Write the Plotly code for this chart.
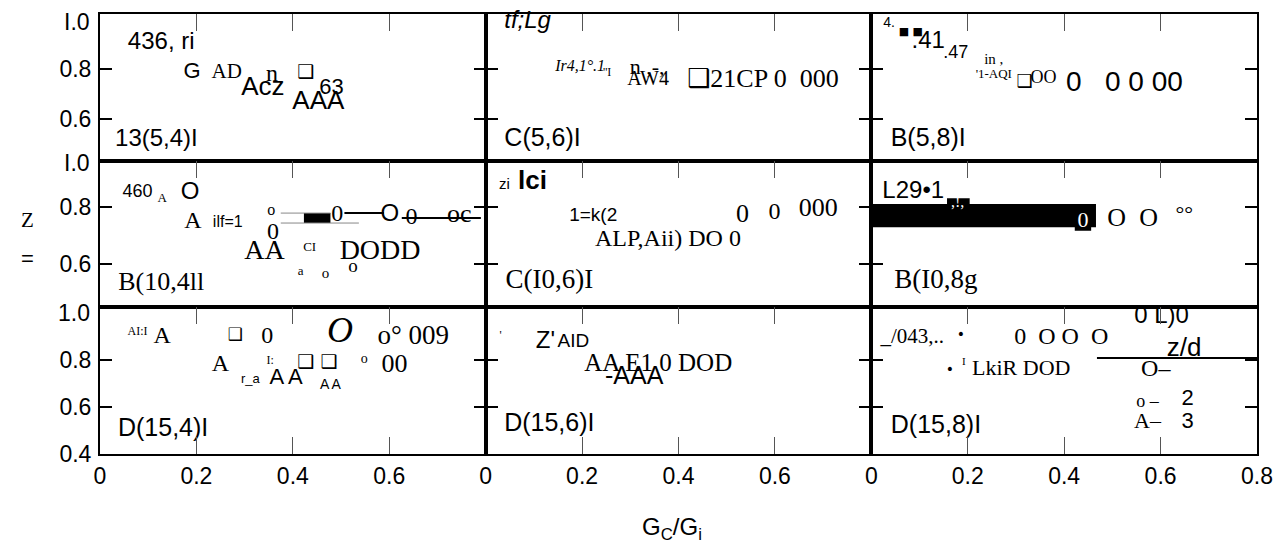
import plotly.graph_objects as go
from plotly.subplots import make_subplots

# ---------------- axis ticks / labels ----------------
x_tick_vals_12 = [0, 0.2, 0.4, 0.6]
x_tick_text_12 = ["0", "0.2", "0.4", "0.6"]
x_tick_vals_3 = [0, 0.2, 0.4, 0.6, 0.8]
x_tick_text_3 = ["0", "0.2", "0.4", "0.6", "0.8"]
y_tick_vals_top = [0.8, 0.6]
y_tick_text_top = ["0.8", "0.6"]
y_tick_vals_bot = [0.8, 0.6, 0.4]
y_tick_text_bot = ["0.8", "0.6", "0.4"]
row_top_labels = ["I.0", "I.0", "1.0"]
row_top_label_vals = [0.988, 0.955, 1.0]
x_title = "G<sub>C</sub>/G<sub>i</sub>"
y_title_parts = ["Z", "="]

# ---------------- panel texts (row 1) ----------------
p11_text = ["436, ri", "G", "AD", "n", "Acz", "❑", "63", "AAA", "13(5,4)I"]
p11_x = [0.127, 0.191, 0.263, 0.357, 0.338, 0.427, 0.480, 0.453, 0.117]
p11_y = [0.904, 0.787, 0.783, 0.775, 0.723, 0.783, 0.719, 0.663, 0.514]

p12_text = ["<i>tf;Lg</i>", "<i>Ir4,1°.1</i>", "n ,-,", "''I", "AW4", "❑21CP 0  000", "C(5,6)I"]
p12_x = [0.087, 0.196, 0.335, 0.252, 0.337, 0.575, 0.118]
p12_y = [0.988, 0.807, 0.803, 0.783, 0.755, 0.755, 0.514]

p13_text = ["4.", "■ ■", ".41", ".47", "in ,", "'1-AQI", "❑", "OO", "0   0 0 00", "B(5,8)I"]
p13_x = [0.037, 0.082, 0.118, 0.175, 0.254, 0.254, 0.318, 0.357, 0.525, 0.118]
p13_y = [0.980, 0.948, 0.908, 0.863, 0.835, 0.775, 0.747, 0.763, 0.739, 0.514]

# ---------------- panel texts (row 2) ----------------
p21_text = ["460", "A", "O", "A", "ilf=1", "o", "0", "0", "O", "0", "oc",
            "AA", "CI", "DODD", "a", "o", "o", "B(10,4ll"]
p21_x = [0.078, 0.129, 0.187, 0.193, 0.265, 0.355, 0.359, 0.492, 0.601, 0.646, 0.745,
         0.341, 0.435, 0.581, 0.416, 0.468, 0.525, 0.127]
p21_y = [0.849, 0.827, 0.849, 0.747, 0.743, 0.785, 0.708, 0.771, 0.771, 0.761, 0.771,
         0.641, 0.655, 0.641, 0.571, 0.564, 0.589, 0.529]
p21_line_x = [[0.375, 0.478], [0.375, 0.537], [0.507, 0.589], [0.626, 0.790]]
p21_line_y = [[0.778, 0.778], [0.743, 0.743], [0.778, 0.778], [0.761, 0.761]]
p21_bar_start = [0.423]
p21_bar_end = [0.478]
p21_bar_y = [0.761]
p21_bar_h = [0.035]

p22_text = ["zi", "<b>lci</b>", "1=k(2", "ALP,Aii) DO 0", "0", "0", "000", "C(I0,6)I"]
p22_x = [0.039, 0.097, 0.223, 0.378, 0.533, 0.599, 0.690, 0.132]
p22_y = [0.877, 0.884, 0.768, 0.683, 0.771, 0.778, 0.792, 0.539]

p23_text = ["L29•1", ",!,", "0", "O", "O", "°°", "B(I0,8g"]
p23_x = [0.087, 0.179, 0.439, 0.509, 0.575, 0.649, 0.134]
p23_y = [0.852, 0.813, 0.747, 0.754, 0.754, 0.771, 0.539]
p23_bar_start = [0.002, 0.157, 0.422]
p23_bar_end = [0.466, 0.204, 0.456]
p23_bar_y = [0.769, 0.813, 0.747]
p23_bar_h = [0.081, 0.035, 0.063]

# ---------------- panel texts (row 3) ----------------
p31_text = ["AI:I", "A", "❑", "0", "<i>O</i>", "o° 009", "A", "I:", "❑ ❑", "o", "00",
            "r_a", "A A", "A A", "D(15,4)I"]
p31_x = [0.078, 0.129, 0.281, 0.347, 0.498, 0.650, 0.250, 0.353, 0.451, 0.548, 0.611,
         0.312, 0.386, 0.478, 0.131]
p31_y = [0.919, 0.897, 0.902, 0.897, 0.914, 0.897, 0.778, 0.795, 0.787, 0.800, 0.778,
         0.715, 0.719, 0.693, 0.502]

p32_text = ["'", "Z'", "AID", "AA E1 0 DOD", "-AAA", "D(15,6)I"]
p32_x = [0.031, 0.124, 0.182, 0.358, 0.308, 0.132]
p32_y = [0.902, 0.876, 0.876, 0.778, 0.723, 0.523]

p33_text = ["_/043,..", "•", "0  O O  O", "•", "I", "LkiR DOD", "0 L)0", "z/d",
            "O–", "o –", "2", "A–", "3", "D(15,8)I"]
p33_x = [0.085, 0.186, 0.394, 0.163, 0.192, 0.311, 0.602, 0.649,
         0.590, 0.573, 0.656, 0.573, 0.656, 0.134]
p33_y = [0.893, 0.902, 0.893, 0.753, 0.791, 0.761, 0.982, 0.846,
         0.757, 0.617, 0.630, 0.536, 0.536, 0.515]
p33_line_x = [[0.468, 0.8]]
p33_line_y = [[0.808, 0.808]]

# ---------------- styles (kept apart from the data) ----------------
FAM = {
    "S": "Liberation Sans, Arial, DejaVu Sans",
    "N": "Liberation Sans Narrow, Liberation Sans, DejaVu Sans",
    "R": "Liberation Serif, Times New Roman, DejaVu Serif, DejaVu Sans",
    "D": "DejaVu Sans",
    "W": "Liberation Serif, DejaVu Sans",
}
COL = {"S": "black", "N": "black", "R": "black", "D": "black", "W": "white"}

p11_font = ["S", "S", "R", "R", "S", "D", "N", "S", "S"]
p11_size = [24, 22, 21, 24, 26, 19, 22, 26, 24]
p12_font = ["S", "R", "R", "R", "R", "R", "S"]
p12_size = [24, 16, 22, 12, 20, 26, 25]
p13_font = ["S", "D", "S", "N", "R", "R", "D", "R", "S", "S"]
p13_size = [14, 11, 24, 18, 15, 13, 18, 18, 28, 25]
p21_font = ["N", "R", "S", "R", "N", "R", "R", "R", "S", "R", "R",
            "R", "R", "R", "R", "R", "R", "R"]
p21_size = [18, 13, 24, 24, 16, 16, 24, 24, 24, 24, 26,
            28, 13, 28, 13, 15, 19, 26]
p22_font = ["S", "S", "N", "R", "R", "R", "R", "R"]
p22_size = [15, 26, 19, 24, 26, 24, 26, 27]
p23_font = ["S", "W", "W", "R", "R", "R", "R"]
p23_size = [24, 16, 22, 26, 26, 22, 27]
p31_font = ["R", "R", "D", "R", "R", "R", "R", "R", "D", "R", "R",
            "S", "S", "S", "S"]
p31_size = [12, 24, 17, 24, 36, 27, 24, 12, 19, 14, 26,
            13, 22, 14, 25]
p32_font = ["R", "S", "N", "R", "S", "S"]
p32_size = [12, 24, 19, 25, 25, 25]
p33_font = ["R", "D", "R", "D", "R", "R", "S", "S", "R", "R", "S", "R", "S", "S"]
p33_size = [21, 14, 24, 14, 11, 22, 24, 26, 24, 18, 22, 22, 22, 25]

panels = [
    (1, 1, p11_text, p11_x, p11_y, p11_font, p11_size),
    (1, 2, p12_text, p12_x, p12_y, p12_font, p12_size),
    (1, 3, p13_text, p13_x, p13_y, p13_font, p13_size),
    (2, 1, p21_text, p21_x, p21_y, p21_font, p21_size),
    (2, 2, p22_text, p22_x, p22_y, p22_font, p22_size),
    (2, 3, p23_text, p23_x, p23_y, p23_font, p23_size),
    (3, 1, p31_text, p31_x, p31_y, p31_font, p31_size),
    (3, 2, p32_text, p32_x, p32_y, p32_font, p32_size),
    (3, 3, p33_text, p33_x, p33_y, p33_font, p33_size),
]

fig = make_subplots(rows=3, cols=3, horizontal_spacing=0, vertical_spacing=0)

# bars first (below text)
for row, col, starts, ends, ys, hs in [
    (2, 1, p21_bar_start, p21_bar_end, p21_bar_y, p21_bar_h),
    (2, 3, p23_bar_start, p23_bar_end, p23_bar_y, p23_bar_h),
]:
    fig.add_trace(go.Bar(
        orientation="h", base=starts, x=[e - s for s, e in zip(starts, ends)],
        y=ys, width=hs, marker=dict(color="black", line=dict(width=0)),
        showlegend=False, hoverinfo="skip"), row=row, col=col)

line_specs = [
    (2, 1, p21_line_x, p21_line_y, [1, 1, 2, 2], ["#888", "#888", "black", "black"]),
    (3, 3, p33_line_x, p33_line_y, [2], ["black"]),
]
for row, col, lxs, lys, widths, colors in line_specs:
    for lx, ly, w, c in zip(lxs, lys, widths, colors):
        fig.add_trace(go.Scatter(x=lx, y=ly, mode="lines",
                                 line=dict(color=c, width=w),
                                 showlegend=False, hoverinfo="skip"),
                      row=row, col=col)

for row, col, txt, xs, ys, fonts, sizes in panels:
    fig.add_trace(go.Scatter(
        x=xs, y=ys, text=txt, mode="text", textposition="middle center",
        textfont=dict(family=[FAM[f] for f in fonts], size=sizes,
                      color=[COL[f] for f in fonts]),
        cliponaxis=False, showlegend=False, hoverinfo="skip"),
        row=row, col=col)

# ---------------- layout of the 3x3 grid ----------------
W, H = 1285, 555
ml, mr, mt, mb = 100, 20, 14, 101
pw, ph = W - ml - mr, H - mt - mb
row_px = [(14, 161), (161, 307), (307, 454)]
y_ranges = [[0.43, 1.02], [0.448, 0.961], [0.4, 1.025]]

for r in range(3):
    for c in range(3):
        idx = r * 3 + c + 1
        xa = "xaxis" if idx == 1 else f"xaxis{idx}"
        ya = "yaxis" if idx == 1 else f"yaxis{idx}"
        xd = [c / 3, (c + 1) / 3]
        yd = [(mt + ph - row_px[r][1]) / ph, (mt + ph - row_px[r][0]) / ph]
        yd = [max(0, min(1, v)) for v in yd]
        xcfg = dict(domain=xd, range=[0, 0.8], showgrid=False, zeroline=False,
                    showline=True, linecolor="black", linewidth=2,
                    ticks="inside", ticklen=17, tickwidth=1, tickcolor="#555")
        if r < 2:
            xcfg.update(side="top", mirror=True, showticklabels=False,
                        tickvals=[0.2, 0.4, 0.6])
        else:
            tv = x_tick_vals_3 if c == 2 else x_tick_vals_12
            tt = x_tick_text_3 if c == 2 else x_tick_text_12
            xcfg.update(side="bottom", mirror="ticks", showticklabels=True,
                        tickvals=tv, ticktext=tt,
                        tickfont=dict(family=FAM["S"], size=23, color="black"),
                        ticklabelstandoff=0)
        fig.layout[xa].update(xcfg)
        ycfg = dict(domain=yd, range=y_ranges[r], showgrid=False, zeroline=False,
                    showline=True, linecolor="black", linewidth=2, mirror="ticks",
                    ticks="inside", ticklen=12, tickwidth=2, tickcolor="black")
        if r < 2:
            ycfg.update(tickvals=y_tick_vals_top, ticktext=y_tick_text_top)
        else:
            ycfg.update(tickvals=y_tick_vals_bot, ticktext=y_tick_text_bot)
        ycfg.update(showticklabels=(c == 0),
                    tickfont=dict(family=FAM["S"], size=23, color="black"),
                    ticklabelstandoff=2)
        fig.layout[ya].update(ycfg)

annotations = []
for r in range(3):
    yref = "y" if r == 0 else f"y{r * 3 + 1}"
    annotations.append(dict(text=row_top_labels[r], x=0, xref="paper", xanchor="right",
                            xshift=-8, y=row_top_label_vals[r], yref=yref,
                            yanchor="middle", showarrow=False,
                            font=dict(family=FAM["S"], size=23, color="black")))
annotations.append(dict(text=x_title, x=(676 - ml) / pw, y=(mt + ph - 546) / ph,
                        xref="paper", yref="paper", showarrow=False,
                        font=dict(family=FAM["S"], size=24, color="black")))
annotations.append(dict(text=y_title_parts[0], x=(18 - ml) / pw, y=(mt + ph - 220) / ph,
                        xref="paper", yref="paper", showarrow=False,
                        font=dict(family=FAM["R"], size=21, color="black")))
annotations.append(dict(text=y_title_parts[1], x=(18 - ml) / pw, y=(mt + ph - 258) / ph,
                        xref="paper", yref="paper", showarrow=False,
                        font=dict(family=FAM["S"], size=22, color="black")))

fig.update_layout(
    width=W, height=H, margin=dict(l=ml, r=mr, t=mt, b=mb),
    paper_bgcolor="white", plot_bgcolor="white", barmode="overlay",
    showlegend=False, annotations=annotations,
    font=dict(family=FAM["S"], color="black"),
)

fig.write_html(
    "out.html",
    config={"responsive": False, "displayModeBar": False},
    default_width="1285px", default_height="555px",
    post_script="document.documentElement.style.overflow='hidden';"
                "document.body.style.overflow='hidden';document.body.style.margin='0';",
)
